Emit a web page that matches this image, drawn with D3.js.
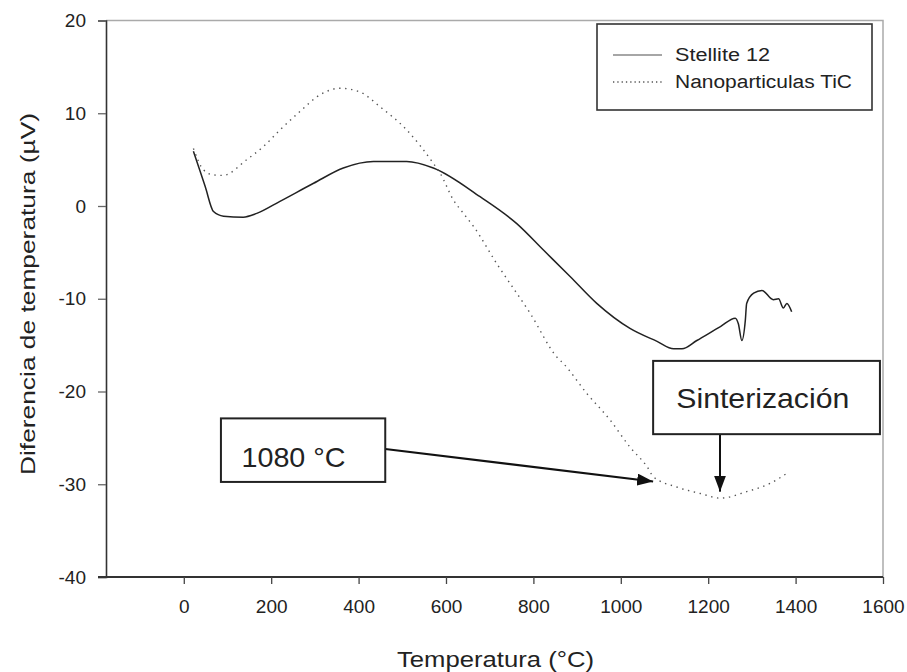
<!DOCTYPE html>
<html>
<head>
<meta charset="utf-8">
<script src="https://cdn.jsdelivr.net/npm/d3@7"></script>
<style>
    body { margin: 0; background: #fff; }
    text { font-family: "Liberation Sans", Arial, sans-serif; fill: #222; }
</style>
</head>
<body>
<svg id="chart" width="907" height="672"></svg>
<script>
// Stellite 12 (solid line)
const stelliteTemp = [22, 37, 49, 68, 91, 136, 167, 220, 297, 365, 434, 510, 571, 678, 762, 823, 884, 945, 1021, 1083,
    1121, 1140, 1174, 1228, 1262, 1269, 1277, 1285, 1288, 1304, 1323, 1349, 1361, 1372, 1380, 1391];
const stelliteDiff = [5.9, 3.8, 2.1, -0.6, -1.1, -1.2, -0.8, 0.5, 2.45, 4.1, 4.8, 4.8, 4.1, 1.0, -1.9, -4.75, -7.6, -10.5, -13.2, -14.6,
    -15.4, -15.4, -14.5, -13.0, -12.1, -12.7, -14.5, -12.3, -10.5, -9.4, -9.1, -10.1, -10.0, -11.0, -10.5, -11.4];

// Nanoparticulas TiC (dotted line)
const ticTemp = [22, 45, 68, 90, 144, 182, 220, 266, 312, 358, 403, 449, 510, 571, 587, 617, 640, 663, 716, 793,
    854, 869, 922, 976, 1021, 1060, 1075, 1128, 1182, 1228, 1288, 1342, 1384];
const ticDiff = [6.2, 3.9, 3.35, 3.3, 5.0, 6.4, 8.2, 10.2, 12.0, 12.7, 12.3, 10.7, 8.2, 4.6, 3.5, 0.65, -0.8, -2.2, -6.2, -11.6,
    -16.3, -17.0, -20.2, -23.1, -26.0, -28.1, -29.2, -30.3, -31.0, -31.5, -30.8, -29.9, -28.7];

const xTicks = [0, 200, 400, 600, 800, 1000, 1200, 1400, 1600];
const yTicks = [-40, -30, -20, -10, 0, 10, 20];

const seriesNames = ["Stellite 12", "Nanoparticulas TiC"];

// annotations, in data units
const annoText = ["1080 \u00B0C", "Sinterizaci\u00F3n"];
const annoBox = [[85, -22.9, 461, -29.75], [1074, -16.7, 1593, -24.6]];
const annoTextAt = [[132, -28.1], [1127, -21.8]];
const annoArrow = [[461, -26.2, 1074, -29.7], [1227, -24.6, 1227, -30.8]];

const svg = d3.select("#chart");

let x = d3.scaleLinear().domain([-178, 1600]).range([106, 883]);
let y = d3.scaleLinear().domain([-40, 20]).range([577, 20.5]);

// frame: top and right in light grey
svg.append("path")
    .attr("d", `M${x(-178)},${y(20)}H${x(1600)}V${y(-40)}`)
    .attr("fill", "none")
    .attr("stroke", "#aaa")
    .attr("stroke-width", 1.5);

// y axis
let yAxis = svg.append("g")
    .attr("transform", `translate(${x(-178)},0)`)
    .call(d3.axisLeft(y).tickValues(yTicks).tickSize(8).tickPadding(12).tickFormat(d => String(d)));
yAxis.select(".domain").attr("stroke", "#333").attr("stroke-width", 1.6);
yAxis.selectAll(".tick line").attr("stroke", "#666").attr("stroke-width", 1.3);
yAxis.selectAll(".tick text")
    .attr("font-size", 19)
    .attr("font-family", "Liberation Sans, Arial, sans-serif")
    .attr("fill", "#222");

// x axis
let xAxis = svg.append("g")
    .attr("transform", `translate(0,${y(-40)})`)
    .call(d3.axisBottom(x).tickValues(xTicks).tickSize(7).tickPadding(16).tickFormat(d => String(d)));
xAxis.select(".domain").attr("stroke", "#333").attr("stroke-width", 2).attr("d", `M${x(-178) - 8},0H${x(1600)}`);
xAxis.selectAll(".tick line").attr("stroke", "#444").attr("stroke-width", 1.3);
xAxis.selectAll(".tick text")
    .attr("font-size", 19)
    .attr("font-family", "Liberation Sans, Arial, sans-serif")
    .attr("fill", "#222");

// axis titles
svg.append("text")
    .attr("x", 397)
    .attr("y", 667)
    .attr("font-size", 22)
    .attr("textLength", 197)
    .attr("lengthAdjust", "spacingAndGlyphs")
    .text("Temperatura (\u00B0C)");

svg.append("text")
    .attr("transform", "translate(35,475) rotate(-90)")
    .attr("font-size", 21)
    .attr("textLength", 362)
    .attr("lengthAdjust", "spacingAndGlyphs")
    .text("Diferencia de temperatura (\u00B5V)");

// curves
let line = d3.line()
    .x(d => x(d[0]))
    .y(d => y(d[1]))
    .curve(d3.curveMonotoneX);

svg.append("path")
    .datum(stelliteTemp.map((t, i) => [t, stelliteDiff[i]]))
    .attr("d", line)
    .attr("fill", "none")
    .attr("stroke", "#222")
    .attr("stroke-width", 1.5);

svg.append("path")
    .datum(ticTemp.map((t, i) => [t, ticDiff[i]]))
    .attr("d", line)
    .attr("fill", "none")
    .attr("stroke", "#555")
    .attr("stroke-width", 1.4)
    .attr("stroke-dasharray", "1.4,4.6");

// legend
let legend = svg.append("g");
legend.append("rect")
    .attr("x", 597).attr("y", 24)
    .attr("width", 275).attr("height", 86)
    .attr("fill", "#fff")
    .attr("stroke", "#333")
    .attr("stroke-width", 1.6);

legend.selectAll("line")
    .data(seriesNames)
    .join("line")
    .attr("x1", 613).attr("x2", 662)
    .attr("y1", (d, i) => 55 + i * 27)
    .attr("y2", (d, i) => 55 + i * 27)
    .attr("stroke", (d, i) => i === 0 ? "#888" : "#555")
    .attr("stroke-width", 1.3)
    .attr("stroke-dasharray", (d, i) => i === 0 ? null : "1.3,3");

legend.selectAll("text")
    .data(seriesNames)
    .join("text")
    .attr("x", 675)
    .attr("y", (d, i) => 55 + i * 27)
    .attr("dy", "0.35em")
    .attr("font-size", 18)
    .attr("textLength", (d, i) => i === 0 ? 95 : 177)
    .attr("lengthAdjust", "spacingAndGlyphs")
    .text(d => d);

// arrow head
svg.append("defs").append("marker")
    .attr("id", "head")
    .attr("viewBox", "0 0 16 12")
    .attr("refX", 16).attr("refY", 6)
    .attr("markerWidth", 16).attr("markerHeight", 12)
    .attr("markerUnits", "userSpaceOnUse")
    .attr("orient", "auto")
    .append("path")
    .attr("d", "M0,0L16,6L0,12Z")
    .attr("fill", "#111");

svg.selectAll(".anno-arrow")
    .data(annoArrow)
    .join("line")
    .attr("class", "anno-arrow")
    .attr("x1", d => x(d[0])).attr("y1", d => y(d[1]))
    .attr("x2", d => x(d[2])).attr("y2", d => y(d[3]))
    .attr("stroke", "#111")
    .attr("stroke-width", 2)
    .attr("marker-end", "url(#head)");

svg.selectAll(".anno-box")
    .data(annoBox)
    .join("rect")
    .attr("class", "anno-box")
    .attr("x", d => x(d[0])).attr("y", d => y(d[1]))
    .attr("width", d => x(d[2]) - x(d[0]))
    .attr("height", d => y(d[3]) - y(d[1]))
    .attr("fill", "#fff")
    .attr("stroke", "#222")
    .attr("stroke-width", 2);

svg.selectAll(".anno-text")
    .data(annoTextAt)
    .join("text")
    .attr("class", "anno-text")
    .attr("x", d => x(d[0])).attr("y", d => y(d[1]))
    .attr("font-size", 28)
    .attr("textLength", (d, i) => i === 0 ? 104 : 173)
    .attr("lengthAdjust", "spacingAndGlyphs")
    .text((d, i) => annoText[i]);
</script>
</body>
</html>
